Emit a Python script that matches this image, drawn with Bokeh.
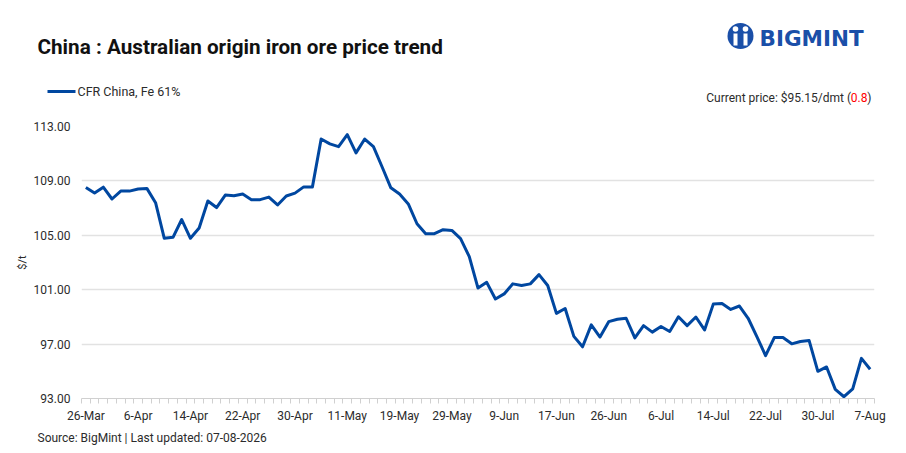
from bokeh.plotting import figure
from bokeh.layouts import column
from bokeh.models import FixedTicker, PrintfTickFormatter, Range1d
from bokeh.core.properties import value
from bokeh.embed import file_html
from bokeh.resources import INLINE

# ---------------- data ----------------
chart_title = "China : Australian origin iron ore price trend"
series_name = "CFR China, Fe 61%"
prices = [
    108.52, 108.11, 108.54, 107.67, 108.25, 108.25, 108.40, 108.45, 107.40, 104.78,
    104.85, 106.16, 104.78, 105.54, 107.52, 107.04, 107.96, 107.91, 108.03, 107.62,
    107.62, 107.81, 107.23, 107.89, 108.10, 108.56, 108.56, 112.08, 111.72, 111.52,
    112.40, 111.06, 112.08, 111.52, 110.02, 108.49, 108.03, 107.31, 105.85, 105.12,
    105.12, 105.41, 105.36, 104.76, 103.43, 101.12, 101.54, 100.32, 100.69, 101.43,
    101.31, 101.43, 102.11, 101.31, 99.26, 99.62, 97.57, 96.80, 98.41, 97.52,
    98.65, 98.83, 98.90, 97.45, 98.36, 97.88, 98.29, 97.93, 99.01, 98.36,
    98.99, 98.04, 99.94, 99.99, 99.55, 99.80, 98.90, 97.55, 96.15, 97.48,
    97.48, 97.02, 97.19, 97.26, 95.00, 95.32, 93.67, 93.13, 93.71, 95.95, 95.15,
]
tick_labels = ["26-Mar", "6-Apr", "14-Apr", "22-Apr", "30-Apr", "11-May", "19-May",
               "29-May", "9-Jun", "17-Jun", "26-Jun", "6-Jul", "14-Jul", "22-Jul",
               "30-Jul", "7-Aug"]
label_every = 6
y_ticks = [93, 97, 101, 105, 109, 113]
current_price = "$95.15/dmt"
price_change = "0.8"
source_text = "Source: BigMint | Last updated: 07-08-2026"

x_idx = list(range(len(prices)))
tick_idx = list(range(0, len(prices), label_every))

# ---------------- style / layout ----------------
W = 906
H_HEAD, H_MAIN, H_FOOT = 110, 315, 28
BLUE = "#0047A0"
LOGO = "#1a4fa8"
TXT = "#2b2b2b"
FONT = "Roboto"


def blank(h):
    f = figure(width=W, height=h, x_range=Range1d(0, W), y_range=Range1d(h, 0),
               output_backend="svg", toolbar_location=None, title=None,
               x_axis_type=None, y_axis_type=None, frame_align=False,
               min_border=0, min_border_left=0, min_border_right=0,
               min_border_top=0, min_border_bottom=0)
    f.outline_line_color = None
    f.xgrid.visible = False
    f.ygrid.visible = False
    f.background_fill_color = "white"
    f.border_fill_color = "white"
    return f


# ---------------- header ----------------
head = blank(H_HEAD)
head.text(x=[37], y=[46], text=[chart_title], text_font=value(FONT), text_font_style="bold",
          text_font_size="20.7px", text_color="#111111", text_baseline="middle", text_align="left")
# legend swatch + label
head.line(x=[47, 75], y=[91, 91], line_color=BLUE, line_width=3)
head.text(x=[77], y=[91], text=[series_name], text_font=value(FONT), text_font_size="12.5px",
          text_color=TXT, text_baseline="middle", text_align="left")
# current price (mixed colours)
head.text(x=[871], y=[97], text=[")"], text_font=value(FONT), text_font_size="12px",
          text_color=TXT, text_baseline="middle", text_align="right")
head.text(x=[867], y=[97], text=[price_change], text_font=value(FONT), text_font_size="12px",
          text_color="#ff0000", text_baseline="middle", text_align="right")
head.text(x=[850.5], y=[97], text=["Current price: " + current_price + " ("], text_font=value(FONT),
          text_font_size="12px", text_color=TXT, text_baseline="middle", text_align="right")
# logo
head.circle(x=[740], y=[35.5], radius=13, fill_color=LOGO, line_color=None)
head.circle(x=[735, 745], y=[28.5, 28.5], radius=2.8, fill_color="white", line_color=None)
head.quad(left=[733, 743], right=[737, 747], top=[33, 33], bottom=[45, 45],
          fill_color="white", line_color=None)
head.text(x=[759], y=[37.5], text=["BIGMINT"], text_font=value("DejaVu Sans"), text_font_style="bold",
          text_font_size="21.5px", text_color=LOGO, text_baseline="middle", text_align="left")

# ---------------- main chart ----------------
X0, X1 = -0.5, len(prices) - 0.5
p = figure(width=W, height=H_MAIN, x_range=Range1d(X0, X1), y_range=Range1d(y_ticks[0], y_ticks[-1]),
           output_backend="svg", toolbar_location=None, title=None, frame_align=False,
           min_border_left=81, min_border_right=32, min_border_top=16, min_border_bottom=26)
p.outline_line_color = None
p.background_fill_color = "white"
p.border_fill_color = "white"

p.line(x=x_idx, y=prices, line_color=BLUE, line_width=3, line_join="round")

p.xgrid.visible = False
p.ygrid.grid_line_color = "#e2e2e2"
p.ygrid.grid_line_width = 1.5

ya = p.yaxis[0]
ya.ticker = FixedTicker(ticks=y_ticks)
ya.formatter = PrintfTickFormatter(format="%.2f")
ya.axis_line_color = None
ya.major_tick_line_color = None
ya.major_tick_out = 0
ya.minor_tick_line_color = None
ya.major_label_standoff = 11
ya.major_label_text_font = FONT
ya.major_label_text_font_size = "12px"
ya.major_label_text_color = TXT
ya.axis_label = "$/t"
ya.axis_label_text_font = FONT
ya.axis_label_text_font_size = "11px"
ya.axis_label_text_font_style = "normal"
ya.axis_label_text_color = TXT
ya.axis_label_standoff = 2

xa = p.xaxis[0]
xa.ticker = FixedTicker(ticks=tick_idx, minor_ticks=[i - 0.5 for i in range(len(prices) + 1)])
xa.major_label_overrides = {i: lbl for i, lbl in zip(tick_idx, tick_labels)}
xa.axis_line_color = "#d0d0d0"
xa.major_tick_line_color = None
xa.major_tick_out = 0
xa.major_tick_in = 0
xa.minor_tick_line_color = "#d0d0d0"
xa.minor_tick_out = 5
xa.minor_tick_in = 0
xa.major_label_standoff = 5
xa.major_label_text_font = FONT
xa.major_label_text_font_size = "12px"
xa.major_label_text_color = TXT

# ---------------- footer ----------------
foot = blank(H_FOOT)
foot.text(x=[37], y=[12], text=[source_text], text_font=value(FONT), text_font_size="12px",
          text_color=TXT, text_baseline="middle", text_align="left")

layout = column(head, p, foot, spacing=0)
open("out.html", "w").write(file_html(layout, INLINE))
